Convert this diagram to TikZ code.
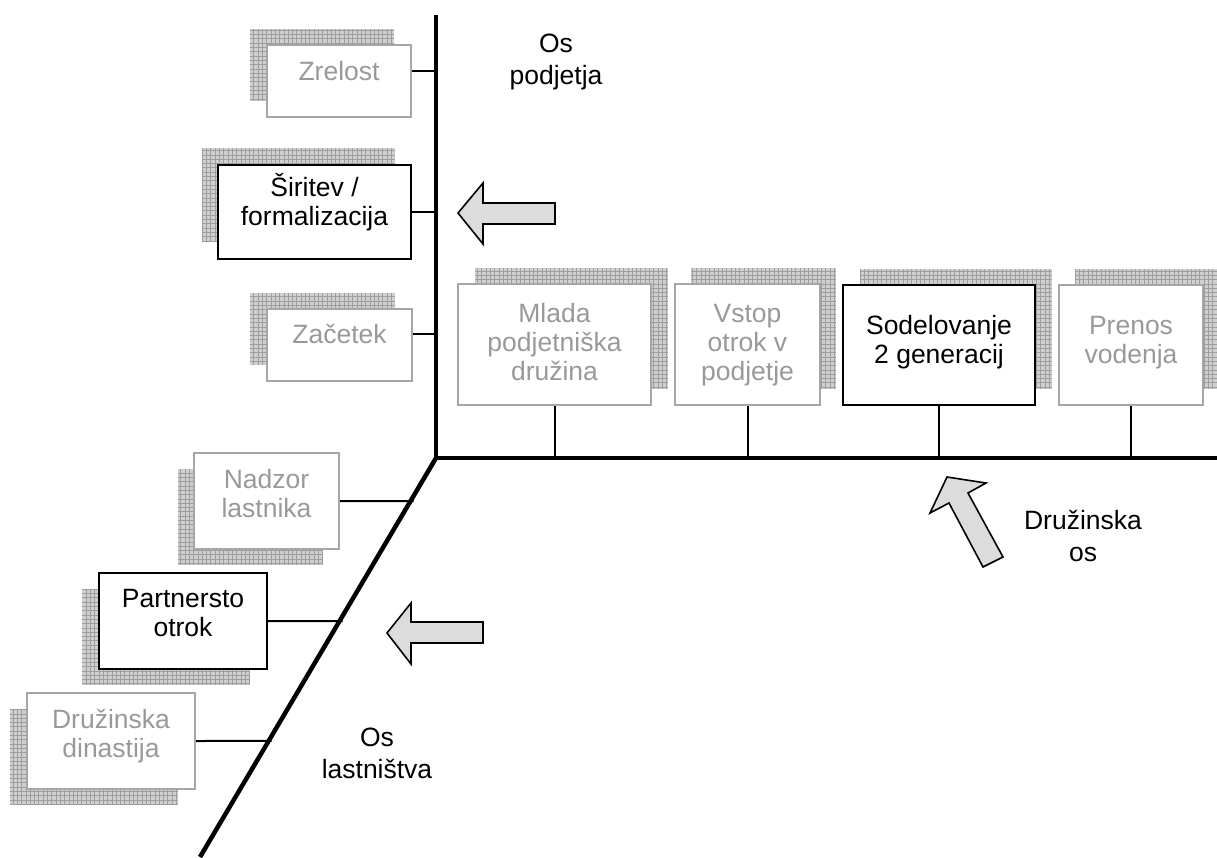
\documentclass[tikz,border=0pt]{standalone}
\usepackage{fontspec}
\setmainfont{Liberation Sans}
\usetikzlibrary{calc,fit}

\definecolor{dimtext}{HTML}{999999}
\definecolor{dimline}{HTML}{A6A6A6}
\definecolor{shadebg}{HTML}{CFCFCF}
\definecolor{shadeln}{HTML}{9E9E9E}
\definecolor{arrowfill}{HTML}{DCDCDC}

\tikzset{
  stagebox/.style={draw, line width=2pt, fill=white, inner sep=0pt},
  activebox/.style={stagebox, draw=black},
  idlebox/.style={stagebox, draw=dimline},
  stagetext/.style={align=center, inner sep=0pt, font=\fontsize{26.5}{29}\selectfont},
  activetext/.style={stagetext, text=black},
  idletext/.style={stagetext, text=dimtext},
  axislabel/.style={align=center, inner sep=0pt, font=\fontsize{26.5}{32}\selectfont},
  axisline/.style={line width=4.5pt, line join=miter},
  link/.style={line width=2pt},
  blockarrow/.style={fill=arrowfill, draw=black, line width=1.6pt, line join=miter},
}

% #1 name, #2 box look, #3 text look, #4 and #5 opposite corners,
% #6 shift of the hatched shadow, #7 centre of the text, #8 text
\newcommand\stage[8]{%
  \begin{scope}
    \clip ([shift={(#6)}]#4) rectangle ([shift={(#6)}]#5);
    \fill[shadebg] ([shift={(#6)}]#4) rectangle ([shift={(#6)}]#5);
    \draw[shadeln, line width=0.6pt, step=4.3pt] ([shift={(#6)}]#4) grid ([shift={(#6)}]#5);
  \end{scope}
  \node[#2, fit={(#4) (#5)}] (#1) {};
  \node[#3] (#1t) at (#7) {#8};
}

\begin{document}
\begin{tikzpicture}[x=1pt, y=-1pt]
  \useasboundingbox (0,0) rectangle (1217,857);

  % the three axes
  \coordinate (O) at (436,458);
  \coordinate (vtop) at (436,15);
  \coordinate (hend) at (1217,458);
  \coordinate (dend) at (200,857);

  % business axis
  \stage{zr}{idlebox}{idletext}{267,45}{411,117}{-17,-16}{339,71}{Zrelost}
  \stage{sf}{activebox}{activetext}{218,165}{411,259}{-16,-17}{314.5,202.5}{Širitev /\\formalizacija}
  \stage{za}{idlebox}{idletext}{267,309}{412,381}{-17,-16}{339.5,334}{Začetek}

  % family axis
  \stage{ml}{idlebox}{idletext}{458,284}{651,405}{17,-16}{554.5,342}{Mlada\\podjetniška\\družina}
  \stage{vs}{idlebox}{idletext}{675,284}{820,405}{16,-16}{747.5,345}{Vstop\\otrok v\\podjetje}
  \stage{sg}{activebox}{activetext}{843,285}{1035,405}{17,-16}{939,342.5}{Sodelovanje\\2 generacij}
  \stage{pv}{idlebox}{idletext}{1059,285}{1203,405}{16,-16}{1131,342.5}{Prenos\\vodenja}

  % ownership axis
  \stage{nl}{idlebox}{idletext}{194,453}{339,549}{-16,16}{266.5,493.5}{Nadzor\\lastnika}
  \stage{po}{activebox}{activetext}{99,573}{267,669}{-17,16}{183,613}{Partnersto\\otrok}
  \stage{dd}{idlebox}{idletext}{27,693}{195,789}{-17,16}{111,736}{Družinska\\dinastija}

  % ticks joining the stages to their axis
  \draw[link] (zr.east |- zrt) -- (O |- zrt);
  \draw[link] (sf.east) -- (O |- sf.east);
  \draw[link] (za.east |- zat) -- (O |- zat);
  \foreach \s in {ml,vs,sg,pv}
    \draw[link] (\s.south) -- (\s.south |- O);
  \draw[link, shorten >=-3pt] (nl.east) -- ($(O)!0.108!(dend)$);
  \draw[link, shorten >=-3pt] (po.east) -- ($(O)!0.4085!(dend)$);
  \draw[link, shorten >=-3pt] (dd.east) -- ($(O)!0.709!(dend)$);

  \draw[axisline] (vtop) -- (O) -- (hend);
  \draw[axisline] (O) -- (dend);

  % direction arrows
  \draw[blockarrow] (458,213) -- (483,183) -- (483,203) -- (555,203)
    -- (555,224) -- (483,224) -- (483,244) -- cycle;
  \draw[blockarrow] (387,633) -- (411,603) -- (411,622) -- (483,622)
    -- (483,643) -- (411,643) -- (411,664) -- cycle;
  \draw[blockarrow] (947,477) -- (986,483) -- (968,493) -- (1003,557)
    -- (983,567) -- (949,503) -- (930,513) -- cycle;

  % axis names
  \node[axislabel] (lblP) at (556,62) {Os\\podjetja};
  \node[axislabel] (lblF) at (1083,536) {Družinska\\os};
  \node[axislabel] (lblL) at (377,753) {Os\\lastništva};
\end{tikzpicture}
\end{document}
